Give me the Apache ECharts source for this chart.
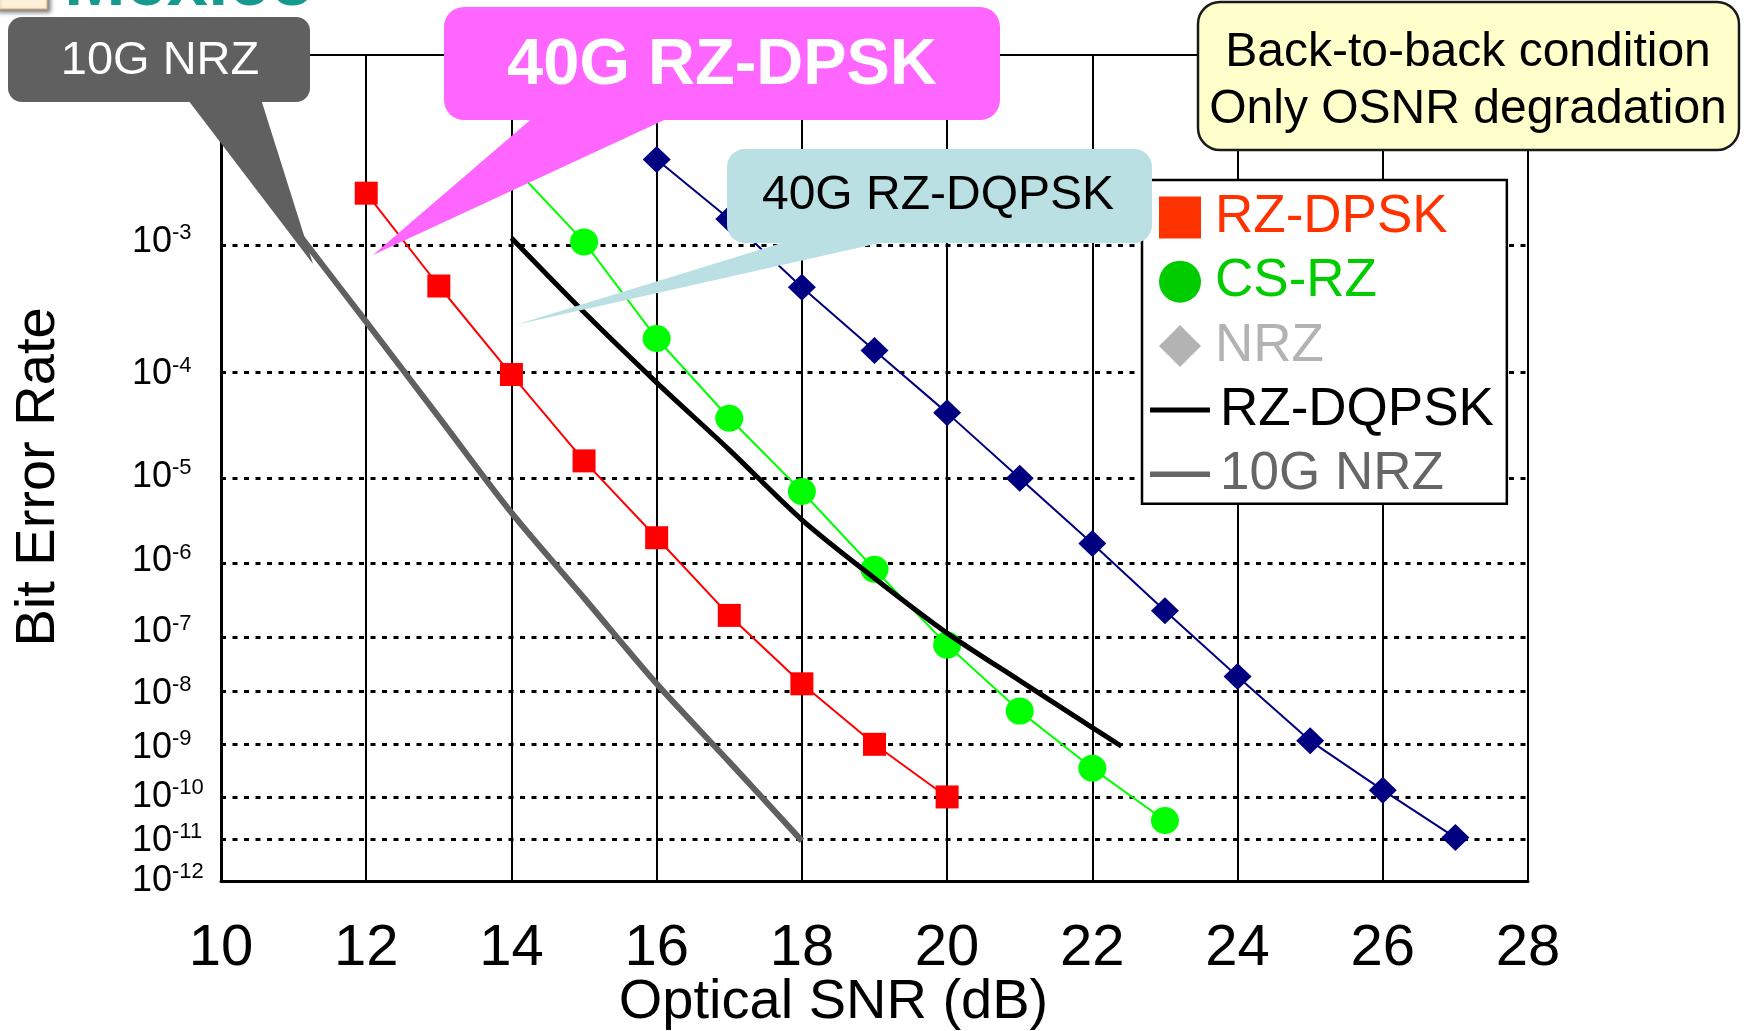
<!DOCTYPE html>
<html>
<head>
<meta charset="utf-8">
<script src="https://cdn.jsdelivr.net/npm/echarts@6/dist/echarts.min.js"></script>
<style>
html,body{margin:0;padding:0;background:#fff;}
#chart{width:1747px;height:1031px;}
</style>
</head>
<body>
<div id="chart"></div>
<script>
// ---- data (OSNR in dB, BER) ----
const osnrRZDPSK = [12, 13, 14, 15, 16, 17, 18, 19, 20];
const berRZDPSK  = [2.0e-3, 5.0e-4, 1.0e-4, 1.5e-5, 2.0e-6, 1.8e-7, 1.5e-8, 1.2e-9, 1.0e-10];

const osnrCSRZ = [14, 15, 16, 17, 18, 19, 20, 21, 22, 23];
const berCSRZ  = [2.9e-3, 1.0e-3, 2.0e-4, 4.0e-5, 7.0e-6, 7.9e-7, 6.4e-8, 5.0e-9, 4.0e-10, 3.0e-11];

const osnrNRZ = [16, 17, 18, 19, 20, 21, 22, 23, 24, 25, 26, 27];
const berNRZ  = [3.1e-3, 1.4e-3, 4.9e-4, 1.6e-4, 4.5e-5, 9.8e-6, 1.7e-6, 2.1e-7, 2.0e-8, 1.4e-9, 1.4e-10, 1.2e-11];

const osnrDQPSK = [14, 15, 16, 17, 18, 19, 20, 21, 22, 22.4];
const berDQPSK  = [1.06e-3, 3.2e-4, 8.5e-5, 1.95e-5, 3.3e-6, 6.0e-7, 9.8e-8, 1.7e-8, 2.5e-9, 1.1e-9];

const osnr10G = [11, 12, 13, 14, 15, 16, 17, 18];
const ber10G  = [1.24e-3, 2.7e-4, 4.1e-5, 4.0e-6, 3.2e-7, 1.5e-8, 5.4e-10, 1.0e-11];

const xMin = 10, xMax = 28, xStep = 2;
const berTop = 1e-2, berBottom = 1e-12;
const berTickExps = [3, 4, 5, 6, 7, 8, 9, 10, 11, 12];
const berGridExps = [3, 4, 5, 6, 7, 8, 9, 10, 11];

// BER paper scale: log10(-log10(BER))
const q = b => Math.log10(-Math.log10(b));
const pairs = (xs, bs) => xs.map((x, i) => [x, q(bs[i])]);

const FF = '"Liberation Sans", Arial, sans-serif';

const chart = echarts.init(document.getElementById('chart'), null, {renderer: 'canvas'});

chart.setOption({
  animation: false,
  backgroundColor: '#fff',
  textStyle: {fontFamily: FF},
  grid: {
    left: 221, right: 219, top: 55, bottom: 150,
    show: true, borderColor: '#000', borderWidth: 2, backgroundColor: 'transparent',
    containLabel: false, outerBoundsMode: 'none'
  },
  xAxis: {
    type: 'value', min: xMin, max: xMax, interval: xStep,
    axisLine: {onZero: false, lineStyle: {color: '#000', width: 3}},
    axisTick: {show: false},
    splitLine: {show: true, lineStyle: {color: '#000', width: 2}},
    axisLabel: {fontSize: 58, color: '#000', margin: 39, fontFamily: FF, showMinLabel: true, showMaxLabel: true},
    name: 'Optical SNR (dB)', nameLocation: 'middle', nameGap: 94, nameMoveOverlap: false,
    nameTextStyle: {fontSize: 56, color: '#000', fontFamily: FF, padding: [0, 82, 0, 0]}
  },
  yAxis: {
    type: 'value', inverse: true, min: q(berTop), max: q(berBottom),
    axisLine: {show: true, lineStyle: {color: '#000', width: 3}},
    axisTick: {show: false},
    splitLine: {show: false},
    axisLabel: {
      customValues: berTickExps.map(n => q(Math.pow(10, -n))),
      align: 'left', margin: 89, color: '#000', hideOverlap: false,
      showMinLabel: true, showMaxLabel: true,
      formatter: v => '{b|10}{s|-' + Math.round(Math.pow(10, v)) + '}',
      rich: {
        b: {fontSize: 36, lineHeight: 40, color: '#000', fontFamily: FF},
        s: {fontSize: 22, lineHeight: 32, verticalAlign: 'top', color: '#000', fontFamily: FF}
      }
    },
    name: 'Bit Error Rate', nameLocation: 'middle', nameRotate: 90, nameGap: 154, nameMoveOverlap: false,
    nameTextStyle: {fontSize: 56, color: '#000', fontFamily: FF, padding: [0, 18, 0, 0]}
  },
  legend: {
    orient: 'vertical', left: 1142, top: 180,
    padding: [11, 13, 3, 8], itemWidth: 60, itemHeight: 42, itemGap: 11.2, itemTextGap: 12,
    borderColor: '#000', borderWidth: 2.5, backgroundColor: '#fff', selectedMode: false,
    textStyle: {fontSize: 53, lineHeight: 52, fontFamily: FF},
    data: [
      {name: 'RZ-DPSK', icon: 'path://M0,0H10V10H0Z', itemStyle: {color: '#ff3300', borderWidth: 0}, textStyle: {color: '#ff3300'}},
      {name: 'CS-RZ', icon: 'circle', itemStyle: {color: '#00cc00', borderWidth: 0}, textStyle: {color: '#00cc00'}},
      {name: 'NRZ', icon: 'path://M5,0L10,5L5,10L0,5Z', itemStyle: {color: '#b3b3b3', borderWidth: 0}, textStyle: {color: '#b3b3b3'}},
      {name: 'RZ-DQPSK', icon: 'path://M0,0H60V5H0Z', itemStyle: {color: '#000', borderWidth: 0}, textStyle: {color: '#000', padding: [0, 0, 0, 5]}},
      {name: '10G NRZ', icon: 'path://M0,0H65V6H0Z', itemStyle: {color: '#666', borderWidth: 0}, textStyle: {color: '#666', padding: [0, 0, 0, 5]}}
    ]
  },
  series: [
    {
      name: 'grid', type: 'line', data: [], silent: true,
      markLine: {
        silent: true, z: 1, symbol: ['none', 'none'], label: {show: false},
        lineStyle: {color: '#000', type: [5, 6.5], width: 3},
        emphasis: {disabled: true},
        data: berGridExps.map(n => ({yAxis: q(Math.pow(10, -n))}))
      }
    },
    {
      name: '10G NRZ', type: 'line', data: pairs(osnr10G, ber10G), symbol: 'none', smooth: 0.3,
      itemStyle: {color: '#606060'}, lineStyle: {color: '#606060', width: 6}, z: 2, silent: true
    },
    {
      name: 'RZ-DPSK', type: 'line', data: pairs(osnrRZDPSK, berRZDPSK), symbol: 'rect', symbolSize: 23,
      itemStyle: {color: '#ff0000', borderWidth: 0}, lineStyle: {color: '#ff0000', width: 2}, z: 3, silent: true
    },
    {
      name: 'CS-RZ', type: 'line', data: pairs(osnrCSRZ, berCSRZ), symbol: 'circle', symbolSize: [28, 27],
      itemStyle: {color: '#00ff00', borderWidth: 0}, lineStyle: {color: '#00ff00', width: 2}, z: 3, silent: true
    },
    {
      name: 'NRZ', type: 'line', data: pairs(osnrNRZ, berNRZ), symbol: 'diamond', symbolSize: [28, 27],
      itemStyle: {color: '#000080', borderWidth: 0}, lineStyle: {color: '#000080', width: 2}, z: 3, silent: true
    },
    {
      name: 'RZ-DQPSK', type: 'line', data: pairs(osnrDQPSK, berDQPSK), symbol: 'none', smooth: 0.3,
      itemStyle: {color: '#000'}, lineStyle: {color: '#000', width: 5}, z: 4, silent: true
    }
  ],
  graphic: {
    elements: [
      {type: 'rect', z: 100, shape: {x: -5, y: -10, width: 52, height: 19},
        style: {fill: '#fdf0d8', stroke: '#e0b070', lineWidth: 1, shadowBlur: 4, shadowColor: 'rgba(0,0,0,0.5)', shadowOffsetX: 3, shadowOffsetY: 3}},
      {type: 'text', z: 100, style: {text: 'Mexico', x: 64, y: 22, verticalAlign: 'bottom', fill: '#159a8f', fontSize: 74, fontWeight: 'bold', fontFamily: FF}},

      {type: 'polygon', z: 100, shape: {points: [[185, 96], [260, 96], [313, 264]]}, style: {fill: '#606060'}},
      {type: 'rect', z: 100, shape: {x: 8, y: 17, width: 302, height: 85, r: 14}, style: {fill: '#606060'}},
      {type: 'text', z: 101, style: {text: '10G NRZ', x: 160, y: 61, align: 'center', verticalAlign: 'middle', fill: '#fff', fontSize: 47, fontFamily: FF}},

      {type: 'polygon', z: 100, shape: {points: [[536, 115], [675, 115], [373, 255]]}, style: {fill: '#ff66ff'}},
      {type: 'rect', z: 100, shape: {x: 444, y: 7, width: 556, height: 113, r: 20}, style: {fill: '#ff66ff'}},
      {type: 'text', z: 101, style: {text: '40G RZ-DPSK', x: 722, y: 66, align: 'center', verticalAlign: 'middle', fill: '#fff', fontSize: 65, fontWeight: 'bold', fontFamily: FF}},

      {type: 'polygon', z: 100, shape: {points: [[798, 238], [902, 238], [515, 325]]}, style: {fill: '#bbe0e3'}},
      {type: 'rect', z: 100, shape: {x: 727, y: 149, width: 425, height: 94, r: 18}, style: {fill: '#bbe0e3'}},
      {type: 'text', z: 101, style: {text: '40G RZ-DQPSK', x: 938, y: 196, align: 'center', verticalAlign: 'middle', fill: '#000', fontSize: 48, fontFamily: FF}},

      {type: 'rect', z: 100, shape: {x: 1198, y: 2, width: 541, height: 148, r: 22}, style: {fill: '#ffffcc', stroke: '#1a1a1a', lineWidth: 2.5}},
      {type: 'text', z: 101, style: {text: 'Back-to-back condition', x: 1468, y: 53, align: 'center', verticalAlign: 'middle', fill: '#000', fontSize: 48, fontFamily: FF}},
      {type: 'text', z: 101, style: {text: 'Only OSNR degradation', x: 1468, y: 110, align: 'center', verticalAlign: 'middle', fill: '#000', fontSize: 48, fontFamily: FF}}
    ]
  }
});
</script>
</body>
</html>
